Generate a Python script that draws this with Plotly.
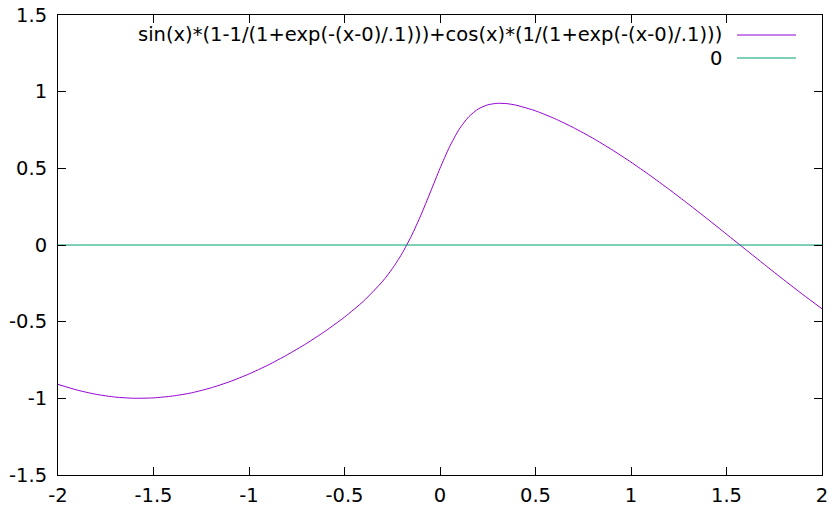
import plotly.graph_objects as go

# values
x_vals = [-2.0, -1.9, -1.8, -1.7, -1.6, -1.5, -1.4, -1.3, -1.2, -1.1, -1.0, -0.9, -0.8, -0.7, -0.6,
          -0.5, -0.4, -0.3, -0.25, -0.2, -0.15, -0.1, -0.05, 0.0, 0.05, 0.1, 0.15, 0.2, 0.25, 0.3,
          0.35, 0.4, 0.5, 0.6, 0.7, 0.8, 0.9, 1.0, 1.1, 1.2, 1.3, 1.4, 1.5, 1.6, 1.7, 1.8, 1.9, 2.0]
y_vals = [-0.909, -0.946, -0.974, -0.992, -0.9996, -0.997, -0.985, -0.964, -0.932, -0.891, -0.841,
          -0.783, -0.7165, -0.643, -0.5612, -0.4703, -0.3658, -0.2362, -0.1551, -0.0582, 0.0582,
          0.1946, 0.3459, 0.5, 0.6406, 0.7543, 0.8357, 0.887, 0.9141, 0.924, 0.9219, 0.9115,
          0.8749, 0.8247, 0.7647, 0.6967, 0.6217, 0.5403, 0.4536, 0.3624, 0.2675, 0.17, 0.0707,
          -0.0292, -0.1288, -0.2272, -0.3233, -0.4161]
zero_x = [-2.0, 2.0]
zero_y = [0.0, 0.0]
x_ticks = [-2, -1.5, -1, -0.5, 0, 0.5, 1, 1.5, 2]
y_ticks = [-1.5, -1, -0.5, 0, 0.5, 1, 1.5]
label1 = "sin(x)*(1-1/(1+exp(-(x-0)/.1)))+cos(x)*(1/(1+exp(-(x-0)/.1)))"
label2 = "0"

PURPLE = "#9400D3"
GREEN = "#009E73"
FS = 19.5

fig = go.Figure()
fig.add_trace(go.Scatter(x=x_vals, y=y_vals, mode="lines", line=dict(color=PURPLE, width=1, shape="spline", smoothing=0.6), showlegend=False))
fig.add_trace(go.Scatter(x=zero_x, y=zero_y, mode="lines", line=dict(color=GREEN, width=1), showlegend=False))

axis_common = dict(showline=True, linecolor="black", linewidth=1, mirror="ticks", ticks="inside",
                   ticklen=8, tickcolor="black", showgrid=False, zeroline=False, automargin=False,
                   tickfont=dict(family="DejaVu Sans", size=FS, color="black"))
fig.update_layout(
    width=832, height=508,
    margin=dict(l=58, r=10, t=15, b=33),
    paper_bgcolor="white", plot_bgcolor="white",
    xaxis=dict(range=[-2, 2], tickvals=x_ticks, ticktext=[f"{v:g}" for v in x_ticks], ticklabelstandoff=3, **axis_common),
    yaxis=dict(range=[-1.5, 1.5], tickvals=y_ticks, ticktext=[f"{v:g}" for v in y_ticks], ticklabelstandoff=6, **axis_common),
    font=dict(family="DejaVu Sans", size=FS, color="black"),
)

# legend (gnuplot style: right-aligned text, line sample to the right)
pw = 832 - 58 - 10
ph = 508 - 15 - 33
def px(xpix):
    return (xpix - 58) / pw
def py(ypix):
    return 1 - (ypix - 15) / ph

for lab, col, yp in [(label1, PURPLE, 35), (label2, GREEN, 58)]:
    fig.add_annotation(xref="paper", yref="paper", x=px(724), y=py(yp), text=lab, showarrow=False,
                       xanchor="right", yanchor="middle", font=dict(family="DejaVu Sans", size=FS, color="black"))
    fig.add_shape(type="line", xref="paper", yref="paper", x0=px(737), x1=px(796), y0=py(yp), y1=py(yp),
                  line=dict(color=col, width=1))

fig.write_html("out.html", config={"displayModeBar": False},
               post_script="document.body.style.margin='0';document.body.style.overflow='hidden';")
